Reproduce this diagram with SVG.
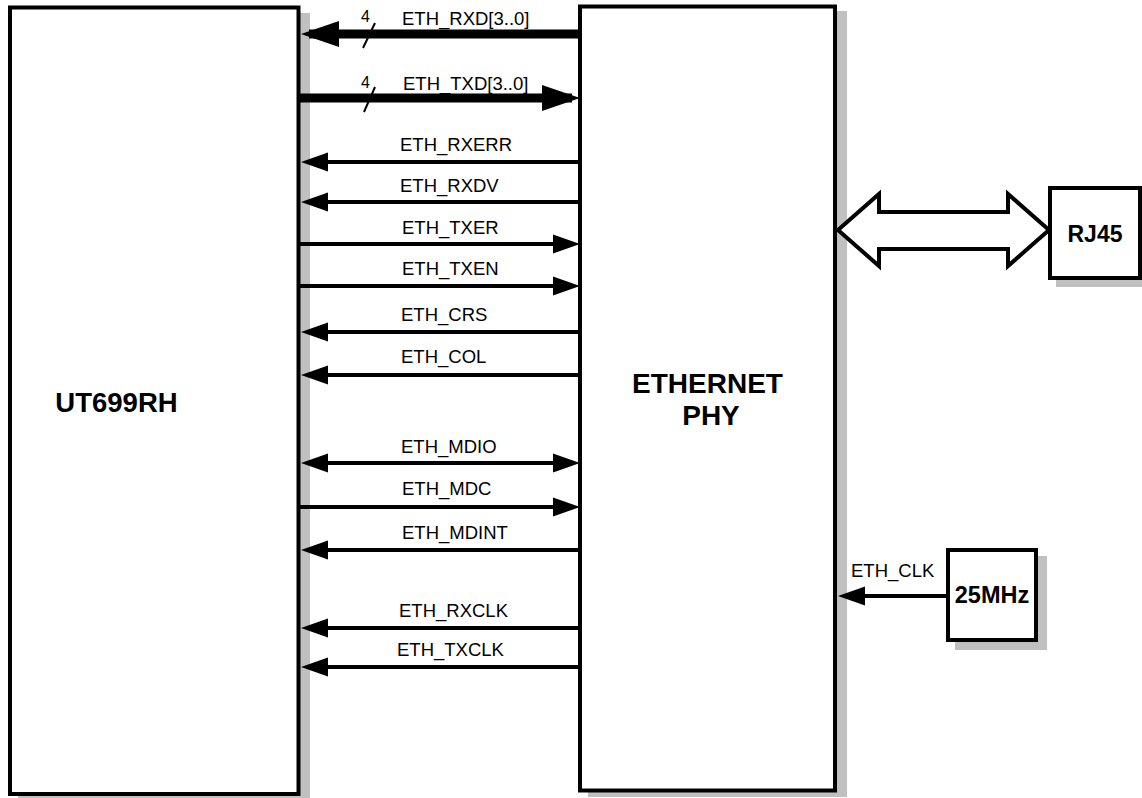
<svg xmlns="http://www.w3.org/2000/svg" width="1142" height="798" viewBox="0 0 1142 798">
<style>
.shadow{fill:#c0c0c0;stroke:none}
.box{fill:#ffffff;stroke:#000000;stroke-width:4}
.title{font-family:"Liberation Sans",Arial,sans-serif;font-weight:bold;fill:#000;text-anchor:middle}
.lbl{font-family:"Liberation Sans",Arial,sans-serif;font-size:18.5px;fill:#000}
.bus{font-family:"Liberation Sans",Arial,sans-serif;font-size:16px;fill:#000}
.sig{stroke:#000;stroke-width:4;fill:none}
.thick{stroke:#000;stroke-width:9;fill:none}
.slash{stroke:#000;stroke-width:2}
</style>
<defs>
<marker id="ah" markerUnits="userSpaceOnUse" markerWidth="27" markerHeight="19" refX="21" refY="9.5" orient="auto-start-reverse" overflow="visible">
<path d="M0,0 L27,9.5 L0,19 z" fill="#000"/>
</marker>
<marker id="ahb" markerUnits="userSpaceOnUse" markerWidth="38" markerHeight="26" refX="30" refY="13" orient="auto-start-reverse" overflow="visible">
<path d="M0,0 L38,13 L0,26 z" fill="#000"/>
</marker>
</defs>
<rect width="1142" height="798" fill="#ffffff"/>

<g id="ut699rh">
<rect class="shadow" x="18" y="13" width="292" height="790"/>
<rect class="box" x="10" y="7.5" width="288.5" height="786.5"/>
<text class="title" x="116.5" y="412" font-size="27.5">UT699RH</text>
</g>

<g id="ethernet-phy">
<rect class="shadow" x="588" y="11" width="259" height="786"/>
<rect class="box" x="580" y="6.5" width="255" height="784"/>
<text class="title" x="707.5" y="393" font-size="28">ETHERNET</text>
<text class="title" x="711" y="425" font-size="28">PHY</text>
</g>

<g id="rj45">
<rect class="shadow" x="1056" y="193" width="94" height="94"/>
<rect class="box" x="1050" y="188" width="90" height="90"/>
<text class="title" x="1095" y="242" font-size="23">RJ45</text>
</g>

<g id="osc-25mhz">
<rect class="shadow" x="955" y="556" width="92" height="94"/>
<rect class="box" x="948" y="550" width="88" height="90"/>
<text class="title" x="992" y="603" font-size="23.5">25MHz</text>
</g>

<g id="connectors">
<line class="thick" x1="579" y1="34" x2="309" y2="34" marker-end="url(#ahb)"/>
<line class="slash" x1="363" y1="48" x2="375" y2="23"/>
<text class="bus" x="361" y="21.5">4</text>
<text class="lbl" x="402" y="25">ETH_RXD[3..0]</text>

<line class="thick" x1="300" y1="98" x2="572" y2="98" marker-end="url(#ahb)"/>
<line class="slash" x1="364" y1="112" x2="375" y2="87"/>
<text class="bus" x="361" y="87.5">4</text>
<text class="lbl" x="403" y="90">ETH_TXD[3..0]</text>

<line class="sig" x1="579" y1="162" x2="307" y2="162" marker-end="url(#ah)"/>
<text class="lbl" x="400" y="151">ETH_RXERR</text>

<line class="sig" x1="579" y1="202" x2="307" y2="202" marker-end="url(#ah)"/>
<text class="lbl" x="400" y="192">ETH_RXDV</text>

<line class="sig" x1="300" y1="244" x2="574" y2="244" marker-end="url(#ah)"/>
<text class="lbl" x="402" y="234">ETH_TXER</text>

<line class="sig" x1="300" y1="286" x2="574" y2="286" marker-end="url(#ah)"/>
<text class="lbl" x="402" y="275">ETH_TXEN</text>

<line class="sig" x1="579" y1="332" x2="307" y2="332" marker-end="url(#ah)"/>
<text class="lbl" x="401" y="321">ETH_CRS</text>

<line class="sig" x1="579" y1="375" x2="307" y2="375" marker-end="url(#ah)"/>
<text class="lbl" x="401" y="363">ETH_COL</text>

<line class="sig" x1="307" y1="463" x2="574" y2="463" marker-start="url(#ah)" marker-end="url(#ah)"/>
<text class="lbl" x="401" y="453">ETH_MDIO</text>

<line class="sig" x1="300" y1="507" x2="574" y2="507" marker-end="url(#ah)"/>
<text class="lbl" x="402" y="495">ETH_MDC</text>

<line class="sig" x1="580" y1="550" x2="307" y2="550" marker-end="url(#ah)"/>
<text class="lbl" x="402" y="539">ETH_MDINT</text>

<line class="sig" x1="579" y1="628" x2="307" y2="628" marker-end="url(#ah)"/>
<text class="lbl" x="399" y="617">ETH_RXCLK</text>

<line class="sig" x1="579" y1="667" x2="307" y2="667" marker-end="url(#ah)"/>
<text class="lbl" x="397" y="656">ETH_TXCLK</text>

<line class="sig" x1="948" y1="596" x2="844" y2="596" marker-end="url(#ah)"/>
<text class="lbl" x="851" y="577">ETH_CLK</text>

<polygon points="838,230 879,194 879,212 1008,212 1008,194 1049,230 1008,266 1008,249 879,249 879,266" fill="#ffffff" stroke="#000" stroke-width="4" stroke-linejoin="miter"/>
</g>
</svg>
